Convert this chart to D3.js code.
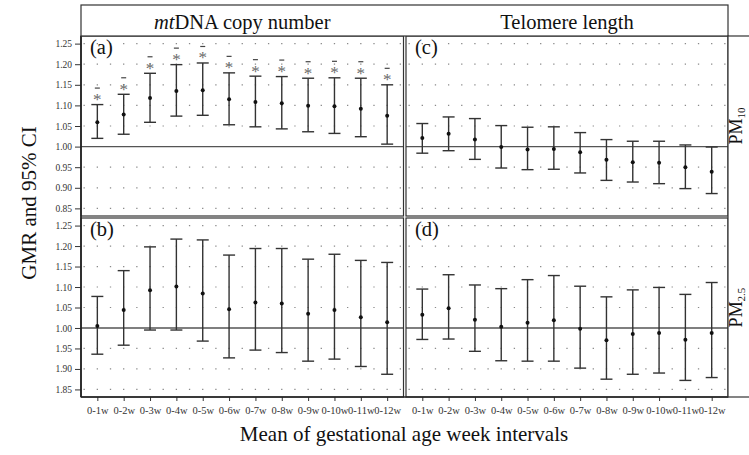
<!DOCTYPE html>
<html>
<head>
<meta charset="utf-8">
<script src="https://cdn.jsdelivr.net/npm/d3@7"></script>
<style>
	body { margin: 0; background: #fff; }
	svg { display: block; }
	text { font-family: "Liberation Serif", "Times New Roman", serif; }
</style>
</head>
<body>
<div id="chart"></div>
<script>
// categories
const weeks = ["0-1w", "0-2w", "0-3w", "0-4w", "0-5w", "0-6w", "0-7w", "0-8w", "0-9w", "0-10w", "0-11w", "0-12w"];

// (a) mtDNA copy number, PM10
const mtdnaPm10Est = [1.059, 1.078, 1.118, 1.135, 1.137, 1.115, 1.108, 1.105, 1.099, 1.098, 1.092, 1.075];
const mtdnaPm10Lower = [1.020, 1.030, 1.059, 1.074, 1.076, 1.053, 1.048, 1.043, 1.036, 1.032, 1.024, 1.006];
const mtdnaPm10Upper = [1.102, 1.127, 1.178, 1.199, 1.203, 1.179, 1.171, 1.170, 1.166, 1.167, 1.166, 1.150];
const mtdnaPm10Sig = [1, 1, 1, 1, 1, 1, 1, 1, 1, 1, 1, 1];

// (b) mtDNA copy number, PM2.5
const mtdnaPm25Est = [1.005, 1.044, 1.092, 1.101, 1.084, 1.046, 1.062, 1.060, 1.035, 1.044, 1.026, 1.014];
const mtdnaPm25Lower = [0.936, 0.958, 0.995, 0.995, 0.968, 0.927, 0.946, 0.940, 0.919, 0.924, 0.906, 0.887];
const mtdnaPm25Upper = [1.077, 1.140, 1.198, 1.217, 1.215, 1.178, 1.194, 1.194, 1.168, 1.180, 1.165, 1.160];
const mtdnaPm25Sig = [0, 0, 0, 0, 0, 0, 0, 0, 0, 0, 0, 0];

// (c) telomere length, PM10
const telPm10Est = [1.021, 1.031, 1.017, 0.999, 0.993, 0.994, 0.986, 0.968, 0.962, 0.961, 0.950, 0.939];
const telPm10Lower = [0.984, 0.990, 0.969, 0.948, 0.944, 0.945, 0.936, 0.918, 0.914, 0.910, 0.898, 0.886];
const telPm10Upper = [1.056, 1.072, 1.068, 1.051, 1.047, 1.048, 1.034, 1.017, 1.013, 1.013, 1.004, 0.999];
const telPm10Sig = [0, 0, 0, 0, 0, 0, 0, 0, 0, 0, 0, 0];

// (d) telomere length, PM2.5
const telPm25Est = [1.032, 1.048, 1.020, 1.003, 1.013, 1.019, 0.998, 0.970, 0.985, 0.988, 0.971, 0.988];
const telPm25Lower = [0.972, 0.973, 0.943, 0.920, 0.919, 0.919, 0.902, 0.875, 0.887, 0.890, 0.872, 0.879];
const telPm25Upper = [1.095, 1.130, 1.105, 1.096, 1.118, 1.128, 1.102, 1.076, 1.093, 1.099, 1.082, 1.111];
const telPm25Sig = [0, 0, 0, 0, 0, 0, 0, 0, 0, 0, 0, 0];

// y breaks and their printed labels (bottom row prints them as in the original)
const yBreaks = [0.85, 0.90, 0.95, 1.00, 1.05, 1.10, 1.15, 1.20, 1.25];
const topRowTickLabels = ["0.85", "0.90", "0.95", "1.00", "1.05", "1.10", "1.15", "1.20", "1.25"];
const bottomRowTickLabels = ["1.85", "1.90", "1.95", "1.00", "1.05", "1.10", "1.15", "1.20", "1.25"];

const colTitles = ["mtDNA copy number", "Telomere length"];
const rowTitles = [["PM", "10"], ["PM", "2.5"]];

const width = 749;
const height = 455;

const cols = [{ x0: 81, x1: 403.5 }, { x0: 406, x1: 728 }];
const rows = [{ y0: 36, y1: 216 }, { y0: 218, y1: 397 }];

const panels = [
	{ tag: "(a)", col: 0, row: 0, est: mtdnaPm10Est, lo: mtdnaPm10Lower, hi: mtdnaPm10Upper, sig: mtdnaPm10Sig },
	{ tag: "(b)", col: 0, row: 1, est: mtdnaPm25Est, lo: mtdnaPm25Lower, hi: mtdnaPm25Upper, sig: mtdnaPm25Sig },
	{ tag: "(c)", col: 1, row: 0, est: telPm10Est, lo: telPm10Lower, hi: telPm10Upper, sig: telPm10Sig },
	{ tag: "(d)", col: 1, row: 1, est: telPm25Est, lo: telPm25Lower, hi: telPm25Upper, sig: telPm25Sig },
];

const svg = d3.select("#chart")
	.append("svg")
	.attr("width", width)
	.attr("height", height);

svg.append("rect").attr("width", width).attr("height", height).attr("fill", "#fff");

function drawPanel(p) {
	const c = cols[p.col];
	const r = rows[p.row];

	const x = d3.scalePoint()
		.domain(weeks)
		.range([c.x0, c.x1])
		.padding(0.62);

	const y = d3.scaleLinear()
		.domain([0.8315, 1.2685])
		.range([r.y1, r.y0]);

	const g = svg.append("g");

	// dotted grid, one dot per category and midpoint
	const period = x.step() / 2;
	const dotLen = 1.3;
	const offset = (((c.x0 - x(weeks[0]) + dotLen / 2) % period) + period) % period;
	yBreaks.filter(v => v !== 1).forEach(v => {
		g.append("line")
			.attr("x1", c.x0).attr("x2", c.x1)
			.attr("y1", y(v)).attr("y2", y(v))
			.attr("stroke", "#8a8a8a")
			.attr("stroke-width", 1.2)
			.attr("stroke-dasharray", `${dotLen} ${period - dotLen}`)
			.attr("stroke-dashoffset", offset);
	});

	// reference line at GMR = 1
	g.append("line")
		.attr("x1", c.x0).attr("x2", c.x1)
		.attr("y1", y(1)).attr("y2", y(1))
		.attr("stroke", "#555")
		.attr("stroke-width", 1.4);

	const data = weeks.map((w, i) => ({ w, est: p.est[i], lo: p.lo[i], hi: p.hi[i], sig: p.sig[i] }));
	const capHalf = 6;

	const bars = g.selectAll("g.bar")
		.data(data)
		.join("g")
		.attr("class", "bar");

	bars.append("line")
		.attr("x1", d => x(d.w)).attr("x2", d => x(d.w))
		.attr("y1", d => y(d.lo)).attr("y2", d => y(d.hi))
		.attr("stroke", "#333")
		.attr("stroke-width", 1.4);

	bars.append("line")
		.attr("x1", d => x(d.w) - capHalf).attr("x2", d => x(d.w) + capHalf)
		.attr("y1", d => y(d.hi)).attr("y2", d => y(d.hi))
		.attr("stroke", "#333")
		.attr("stroke-width", 1.4);

	bars.append("line")
		.attr("x1", d => x(d.w) - capHalf).attr("x2", d => x(d.w) + capHalf)
		.attr("y1", d => y(d.lo)).attr("y2", d => y(d.lo))
		.attr("stroke", "#333")
		.attr("stroke-width", 1.4);

	bars.append("circle")
		.attr("cx", d => x(d.w))
		.attr("cy", d => y(d.est))
		.attr("r", 2)
		.attr("fill", "#111");

	// significance marks
	const sigBars = bars.filter(d => d.sig);
	sigBars.append("text")
		.attr("x", d => x(d.w))
		.attr("y", d => y(d.hi) + 0.5)
		.attr("text-anchor", "middle")
		.style("font-size", "17px")
		.attr("fill", "#6a6a6a")
		.text("*");
	sigBars.append("line")
		.attr("x1", d => x(d.w) - 2.5).attr("x2", d => x(d.w) + 2.5)
		.attr("y1", d => y(d.hi) - 16.5).attr("y2", d => y(d.hi) - 16.5)
		.attr("stroke", "#444")
		.attr("stroke-width", 1.2);

	// panel border
	g.append("rect")
		.attr("x", c.x0).attr("y", r.y0)
		.attr("width", c.x1 - c.x0).attr("height", r.y1 - r.y0)
		.attr("fill", "none")
		.attr("stroke", "#333")
		.attr("stroke-width", 1.2);

	g.append("text")
		.attr("x", c.x0 + 9)
		.attr("y", r.y0 + 18)
		.style("font-size", "20.5px")
		.attr("fill", "#111")
		.text(p.tag);

	// axes only on the outer panels
	if (p.col === 0) {
		const labels = p.row === 0 ? topRowTickLabels : bottomRowTickLabels;
		const ax = svg.append("g")
			.attr("transform", `translate(${c.x0},0)`)
			.call(d3.axisLeft(y)
				.tickValues(yBreaks)
				.tickFormat((d, i) => labels[i])
				.tickSize(6)
				.tickPadding(3));
		ax.select(".domain").remove();
		ax.selectAll("line").attr("stroke", "#333");
		ax.selectAll("text")
			.style("font-family", "'Liberation Serif', serif")
			.style("font-size", "9.5px")
			.attr("fill", "#333");
	}
	if (p.row === 1) {
		const ax = svg.append("g")
			.attr("transform", `translate(0,${r.y1})`)
			.call(d3.axisBottom(x).tickSize(4).tickPadding(6));
		ax.select(".domain").remove();
		ax.selectAll("line").attr("stroke", "#333");
		ax.selectAll("text")
			.style("font-family", "'Liberation Serif', serif")
			.style("font-size", "10.5px")
			.attr("fill", "#333");
	}
}

panels.forEach(drawPanel);

// outer axis lines
svg.append("line")
	.attr("x1", cols[0].x0).attr("x2", cols[0].x0)
	.attr("y1", rows[0].y0).attr("y2", rows[1].y1)
	.attr("stroke", "#222").attr("stroke-width", 1.7);
svg.append("line")
	.attr("x1", cols[0].x0).attr("x2", cols[1].x1)
	.attr("y1", rows[1].y1).attr("y2", rows[1].y1)
	.attr("stroke", "#222").attr("stroke-width", 1.7);

// top strip
svg.append("rect")
	.attr("x", cols[0].x0).attr("y", 5)
	.attr("width", cols[1].x1 - cols[0].x0).attr("height", rows[0].y0 - 5)
	.attr("fill", "#fff")
	.attr("stroke", "#333")
	.attr("stroke-width", 1.2);

const t1 = svg.append("text")
	.attr("x", (cols[0].x0 + cols[0].x1) / 2)
	.attr("y", 29)
	.attr("text-anchor", "middle")
	.style("font-size", "20.5px")
	.attr("fill", "#111");
t1.append("tspan").style("font-style", "italic").text(colTitles[0].slice(0, 2));
t1.append("tspan").text(colTitles[0].slice(2));

svg.append("text")
	.attr("x", (cols[1].x0 + cols[1].x1) / 2)
	.attr("y", 29)
	.attr("text-anchor", "middle")
	.style("font-size", "20.5px")
	.attr("fill", "#111")
	.text(colTitles[1]);

// right strip
svg.append("rect")
	.attr("x", cols[1].x1).attr("y", rows[0].y0)
	.attr("width", 40).attr("height", rows[1].y1 - rows[0].y0)
	.attr("fill", "#fff")
	.attr("stroke", "#333")
	.attr("stroke-width", 1.2);

rows.forEach((r, i) => {
	const t = svg.append("text")
		.attr("transform", `translate(741.5,${(r.y0 + r.y1) / 2}) rotate(-90)`)
		.attr("text-anchor", "middle")
		.style("font-size", "18px")
		.attr("fill", "#111");
	t.append("tspan").text(rowTitles[i][0]);
	t.append("tspan").attr("dy", 3.5).style("font-size", "11px").text(rowTitles[i][1]);
});

// axis titles
svg.append("text")
	.attr("transform", `translate(36,203) rotate(-90)`)
	.attr("text-anchor", "middle")
	.style("font-size", "21px")
	.attr("fill", "#111")
	.text("GMR and 95% CI");

svg.append("text")
	.attr("x", 404)
	.attr("y", 441)
	.attr("text-anchor", "middle")
	.style("font-size", "21px")
	.attr("fill", "#111")
	.text("Mean of gestational age week intervals");
</script>
</body>
</html>
